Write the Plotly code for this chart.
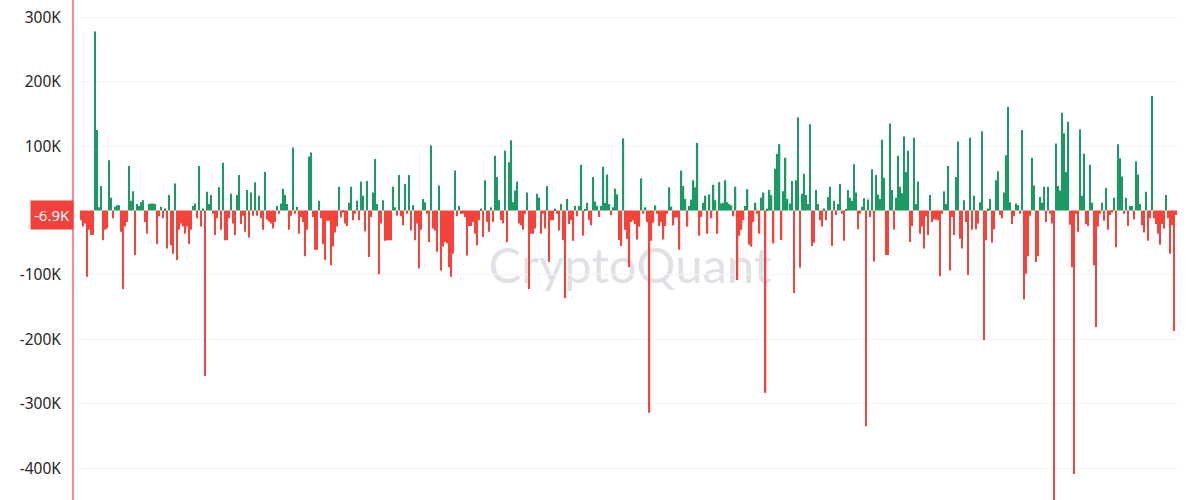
import plotly.graph_objects as go

# Netflow values in thousands (K), left to right
netflow_part1 = [-15, -25, -20, -103, -30, -38, -38, 278, 125, 5, 38, -46, -30, -28, 78, 20, -12, 6, 8, 8,
                 -33, -122, -25, -18, 69, 15, 30, -69, 10, 7, 13, 16, -18, -36, 10, 11, 11, 10, -52, -9,
                 6, -12, 3, -59, 24, -54, -67, 42, -77, -30, -20, -25, -36, -25, -52, -30, 7, 11, -12, 69,
                 -25, 3, -257, 29, 10, 24, -5, -38, -12, 36, -30, 74, -46, -46, -12, 26, -20, -38, 24]
netflow_part2 = [55, -21, -8, -33, 32, -42, 28, -8, 44, -8, 23, -12, -30, 60, -14, -17, -20, -28, -18, 7,
                 -5, 11, 34, 24, 10, -30, -8, 98, -5, 6, -36, -10, -18, -71, -30, 84, 90, -10, -61, -61,
                 15, -12, -52, -77, -16, -16, -85, -56, -34, -25, 37, -11, -3, -20, -24, 12, 37, -15, -5, 15,
                 -15, 45, 23, -32, 46, -72, -10, 28, 80, 10, -99, -20, 16, -47, -46, -46, -46, 37]
netflow_part3 = [5, -8, 55, -9, -23, 41, -5, 55, -31, 8, -46, -20, -90, -30, 18, 13, -5, -49, 101, -28,
                 -31, -64, 39, -93, -56, -49, -51, -88, -103, -67, 62, -9, 7, -5, -5, -10, -70, -24, -24, -18,
                 -36, -54, -15, 3, -41, 47, -18, -33, 5, -18, 85, 52, 16, -15, -20, 93, -49, 75, 109, 13,
                 31, 45, -20, -23, -30, -5, 28, -122, -36, -36, -28, 26, 20, -36, -5, -28, 38, -80, -15]
netflow_part4 = [-15, 3, -5, -31, 10, -46, -136, 18, -21, -15, -47, 7, -9, 7, 71, -39, 2, 12, -15, -23,
                 52, 14, 7, -10, 7, 68, 12, 56, 10, -7, 5, 34, 25, -46, -55, 112, -30, -44, -88, -18,
                 -15, -21, -45, -25, 50, -5, 5, -18, -314, -47, -19, 8, -5, -24, -18, -45, -24, -5, 36, 6,
                 -23, -11, -11, -61, 62, 38, 18, -25, 7, 17, 47, 36, 105, -39, -10, 12, 23, -36]
netflow_part5 = [25, -12, 40, 16, -36, 44, 11, 12, 47, 13, 10, 8, -9, 37, -108, -39, -30, -15, 7, 33,
                 -53, -56, -18, 12, -5, -36, 20, 28, -283, 3, 32, 24, -51, 65, 88, 103, -46, 30, 82, 18,
                 11, 46, -128, 47, 145, -89, 26, 57, 24, 10, 134, -55, -50, 32, 10, -15, -25, 3, -15, 21,
                 37, -55, 15, -7, 10, 41, -5, -47, 2, 32, 20, 15, 72, 28, -29, -5, 6, 19, -335]
netflow_part6 = [17, -10, 64, -79, 55, 25, 18, 110, 51, -69, -69, 135, 32, -30, 20, 85, 37, 27, 115, 60,
                 93, -49, -24, 113, 10, 45, -36, -25, -59, -9, -38, 24, -18, -14, -14, -15, -102, -5, 30, 10,
                 69, -93, -10, -38, 52, 107, -44, -59, 16, -18, -100, 113, -30, 23, -29, -20, 13, 123, -201, -46,
                 3, 18, -50, -29, 47, 61, -7, -12, 28, 86, 161, 13, -21, -9, 11, 8, -5, 125]
netflow_part7 = [-138, -98, -71, -8, 82, 39, -80, -71, 21, 12, 37, -18, 37, -5, -20, -455, 104, 38, 31, 152,
                 120, 60, 138, -22, -88, -409, -5, -33, 126, 23, 88, -21, -24, 71, 12, -85, -181, -25, -5, 12,
                 -16, 35, -30, -7, -3, 20, -57, 103, 81, 53, -5, 20, -24, 7, 7, -14, 76, 56, 10, -23,
                 -34, 29, -47, -12, 178, -12, -21, -36, -53, -21, -28, 24, -12, -67, -23, -187, -6.9]

tick_values = [300000, 200000, 100000, -100000, -200000, -300000, -400000]
tick_labels = ["300K", "200K", "100K", "-100K", "-200K", "-300K", "-400K"]
last_value_label = "-6.9K"
watermark_text = "CryptoQuant"

netflow_k = (netflow_part1 + netflow_part2 + netflow_part3 + netflow_part4 +
             netflow_part5 + netflow_part6 + netflow_part7)
values = [v * 1000 for v in netflow_k]
idx = list(range(len(values)))

GREEN = "#1b9a63"
RED = "#f4433a"
colors = [GREEN if v >= 0 else RED for v in values]

fig = go.Figure(go.Bar(x=idx, y=values, marker_color=colors, marker_line_width=0,
                       hoverinfo="y"))

W, H = 1200, 500
L = 80
R = W - 1177
pw = W - L - R

def px_to_paper_x(px):
    return (px - L) / pw

def px_to_paper_y(py):
    return 1 - py / H

fig.update_layout(
    width=W, height=H,
    margin=dict(l=L, r=R, t=0, b=0, pad=0),
    paper_bgcolor="white", plot_bgcolor="white",
    bargap=0.35, showlegend=False,
    xaxis=dict(visible=False, range=[-0.5, len(values) - 0.5]),
    yaxis=dict(range=[-449500, 326900], tickvals=tick_values, ticktext=tick_labels,
               showgrid=True, gridcolor="#f4f4f4", gridwidth=1, zeroline=False,
               ticks="outside", ticklen=15, tickcolor="rgba(0,0,0,0)",
               tickfont=dict(family="Noto Sans", size=15.5, color="#262626"),
               ticklabeloverflow="allow",
               showline=False, automargin=False),
    shapes=[
        dict(type="line", xref="paper", yref="paper",
             x0=px_to_paper_x(73), x1=px_to_paper_x(73), y0=0, y1=1,
             line=dict(color="#f36a62", width=1.5)),
        dict(type="rect", xref="paper", yref="paper",
             x0=px_to_paper_x(380), x1=px_to_paper_x(880),
             y0=px_to_paper_y(290), y1=px_to_paper_y(236),
             line=dict(width=0), fillcolor="rgba(0,0,0,0)", layer="below",
             label=dict(text=watermark_text, textposition="middle center",
                        font=dict(family="Lato", size=49, color="#e0e0e7"))),
    ],
    annotations=[
        dict(xref="paper", yref="y", x=px_to_paper_x(74), y=-6900,
             xanchor="right", yanchor="middle", text=last_value_label, showarrow=False,
             bgcolor="#f2413a", font=dict(family="Noto Sans", size=15, color="white"),
             width=40, height=26, borderpad=1),
    ],
)

fig.write_html("out.html",
               config={"displayModeBar": False},
               post_script="document.body.style.margin='0';document.body.style.overflow='hidden';")
